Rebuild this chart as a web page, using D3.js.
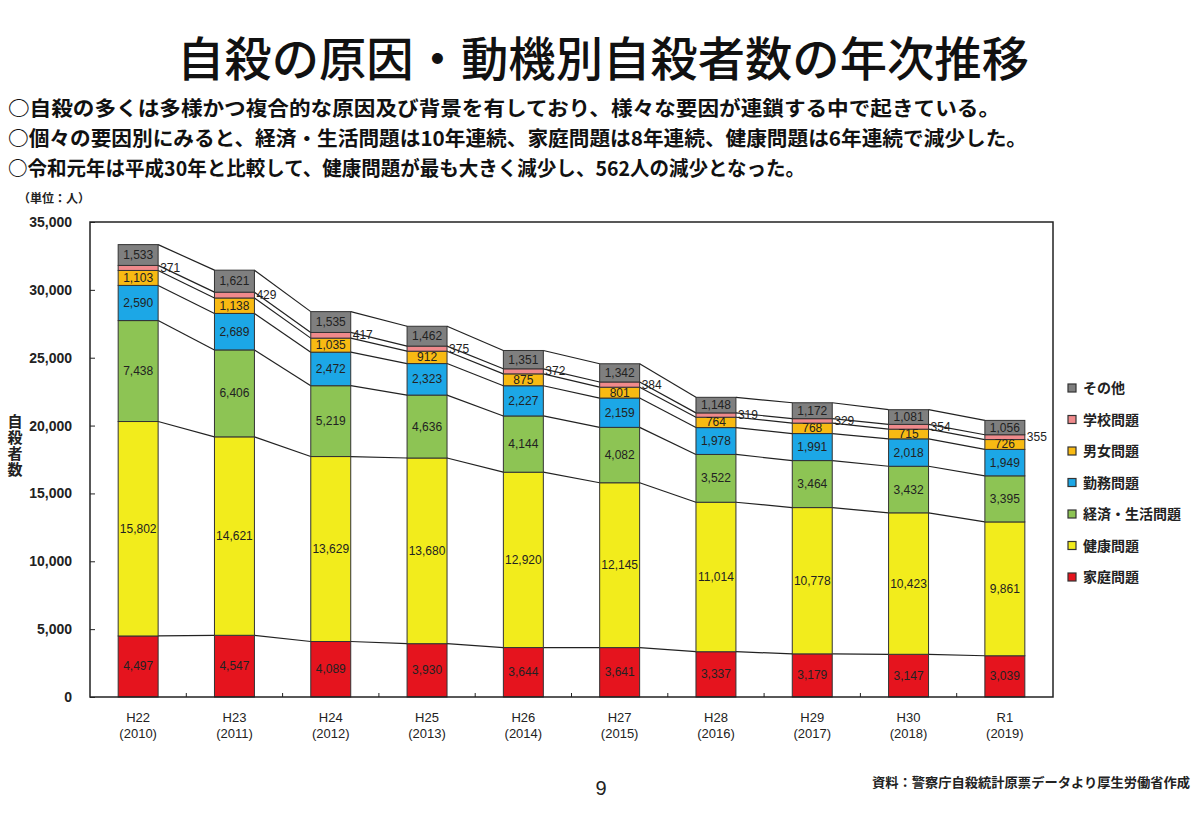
<!DOCTYPE html>
<html><head><meta charset="utf-8">
<script src="https://cdn.jsdelivr.net/npm/d3@7"></script>
<style>body{margin:0;background:#fff}svg{display:block}</style>
</head><body>
<svg id="chart" width="1200" height="825"></svg>
<script>
const eraLabels = ["H22","H23","H24","H25","H26","H27","H28","H29","H30","R1"];
const yearLabels = ["(2010)","(2011)","(2012)","(2013)","(2014)","(2015)","(2016)","(2017)","(2018)","(2019)"];
const seriesNames = ["家庭問題","健康問題","経済・生活問題","勤務問題","男女問題","学校問題","その他"];
const family   = [4497,4547,4089,3930,3644,3641,3337,3179,3147,3039];
const health   = [15802,14621,13629,13680,12920,12145,11014,10778,10423,9861];
const economic = [7438,6406,5219,4636,4144,4082,3522,3464,3432,3395];
const work     = [2590,2689,2472,2323,2227,2159,1978,1991,2018,1949];
const gender   = [1103,1138,1035,912,875,801,764,768,715,726];
const school   = [371,429,417,375,372,384,319,329,354,355];
const other    = [1533,1621,1535,1462,1351,1342,1148,1172,1081,1056];
const yTicks = [0,5000,10000,15000,20000,25000,30000,35000];
const colors = ["#e5141e","#f2ec1c","#8dc454","#1ca7e6","#f8ba13","#f08a8c","#7f7f7f"];
const bullets = [
  "○自殺の多くは多様かつ複合的な原因及び背景を有しており、様々な要因が連鎖する中で起きている。",
  "○個々の要因別にみると、経済・生活問題は10年連続、家庭問題は8年連続、健康問題は6年連続で減少した。",
  "○令和元年は平成30年と比較して、健康問題が最も大きく減少し、562人の減少となった。"
];

const seriesVals = [family,health,economic,work,gender,school,other];
const svg = d3.select("#chart");
const jp = "'Noto Sans CJK JP','Noto Sans',sans-serif";
const num = "'Liberation Sans',Arial,sans-serif";

// title
svg.append("text").attr("x",603).attr("y",76).attr("text-anchor","middle")
  .attr("font-family",jp).attr("font-size",47).attr("font-weight",500).attr("fill","#111")
  .attr("textLength",852).attr("lengthAdjust","spacingAndGlyphs")
  .text("自殺の原因・動機別自殺者数の年次推移");

const bulletLen = [992,1019,797];
bullets.forEach((t,i)=>{
  svg.append("text").attr("x",8).attr("y",116+i*30)
    .attr("font-family",jp).attr("font-size",20).attr("font-weight",700).attr("fill","#111")
    .attr("textLength",bulletLen[i]).attr("lengthAdjust","spacingAndGlyphs").text(t);
});

svg.append("text").attr("x",18).attr("y",203).attr("font-family",jp).attr("font-size",12)
  .attr("font-weight",700).attr("fill","#222").text("（単位：人）");

// scales
const L=90,R=1053,T=222,B=697;
const y = d3.scaleLinear().domain([0,35000]).range([B,T]);
const x = d3.scaleBand().domain(eraLabels).range([L,R]).paddingInner(0.585).paddingOuter(0.2925);
const bw = x.bandwidth();

// stack
const rows = eraLabels.map((e,i)=>{const o={era:e}; seriesNames.forEach((s,k)=>o[s]=seriesVals[k][i]); return o;});
const stacked = d3.stack().keys(seriesNames)(rows);

// connector lines
const g = svg.append("g");
stacked.forEach(layer=>{
  for(let i=0;i<layer.length-1;i++){
    g.append("line")
      .attr("x1",x(eraLabels[i])+bw).attr("y1",y(layer[i][1]))
      .attr("x2",x(eraLabels[i+1])).attr("y2",y(layer[i+1][1]))
      .attr("stroke","#222").attr("stroke-width",1.2);
  }
});

// bars
stacked.forEach((layer,k)=>{
  g.selectAll(null).data(layer).enter().append("rect")
    .attr("x",d=>x(d.data.era)).attr("width",bw)
    .attr("y",d=>y(d[1])).attr("height",d=>y(d[0])-y(d[1]))
    .attr("fill",colors[k]).attr("stroke","#333").attr("stroke-width",1);
});

// value labels
const fmt = d3.format(",");
stacked.forEach((layer,k)=>{
  const isSchool = seriesNames[k]==="学校問題";
  g.selectAll(null).data(layer).enter().append("text")
    .attr("x",d=> isSchool ? x(d.data.era)+bw+2 : x(d.data.era)+bw/2)
    .attr("y",d=>(y(d[0])+y(d[1]))/2+4)
    .attr("text-anchor",isSchool?"start":"middle")
    .attr("font-family",num).attr("font-size",12).attr("fill","#222")
    .text(d=>fmt(d[1]-d[0]));
});

// frame
svg.append("rect").attr("x",L).attr("y",T).attr("width",R-L).attr("height",B-T)
  .attr("fill","none").attr("stroke","#222").attr("stroke-width",1.5);

// y axis
const yAxis = svg.append("g").attr("transform",`translate(${L},0)`)
  .call(d3.axisLeft(y).tickValues(yTicks).tickFormat(d3.format(",")).tickSizeInner(-5).tickSizeOuter(0).tickPadding(18));
yAxis.select(".domain").remove();
yAxis.selectAll("line").attr("stroke","#222");
yAxis.selectAll("text").attr("font-family",num).attr("font-size",14).attr("font-weight",700).attr("fill","#222");

// bottom ticks at band boundaries
const boundaries = eraLabels.slice(1).map(e=>x(e)-x.step()*x.paddingInner()/2);
svg.selectAll(null).data(boundaries).enter().append("line")
  .attr("x1",d=>d).attr("x2",d=>d).attr("y1",B).attr("y2",B-4).attr("stroke","#222");

// x labels
eraLabels.forEach((e,i)=>{
  const cx = x(e)+bw/2;
  svg.append("text").attr("x",cx).attr("y",722).attr("text-anchor","middle")
    .attr("font-family",num).attr("font-size",13).attr("fill","#222").text(e);
  svg.append("text").attr("x",cx).attr("y",738).attr("text-anchor","middle")
    .attr("font-family",num).attr("font-size",13).attr("fill","#222").text(yearLabels[i]);
});

// y title vertical
svg.append("text").attr("x",15).attr("y",414)
  .attr("font-family",jp).attr("font-size",15).attr("font-weight",700).attr("fill","#222")
  .style("writing-mode","vertical-rl").style("letter-spacing","1px").text("自殺者数");

// legend
const legendOrder = seriesNames.map((s,k)=>({s,k})).reverse();
const lg = svg.append("g");
legendOrder.forEach((d,i)=>{
  const cy = 388 + i*31.5;
  lg.append("rect").attr("x",1068).attr("y",cy-4).attr("width",8).attr("height",8)
    .attr("fill",colors[d.k]).attr("stroke","#333").attr("stroke-width",1.2);
  lg.append("text").attr("x",1083).attr("y",cy+5)
    .attr("font-family",jp).attr("font-size",14).attr("font-weight",700).attr("fill","#222").text(d.s);
});

// footer
svg.append("text").attr("x",601).attr("y",795).attr("text-anchor","middle")
  .attr("font-family",num).attr("font-size",20).attr("fill","#222").text("9");
svg.append("text").attr("x",872).attr("y",787)
  .attr("font-family",jp).attr("font-size",13).attr("font-weight",700).attr("fill","#222")
  .attr("textLength",318).attr("lengthAdjust","spacingAndGlyphs")
  .text("資料：警察庁自殺統計原票データより厚生労働省作成");
</script>
</body></html>
